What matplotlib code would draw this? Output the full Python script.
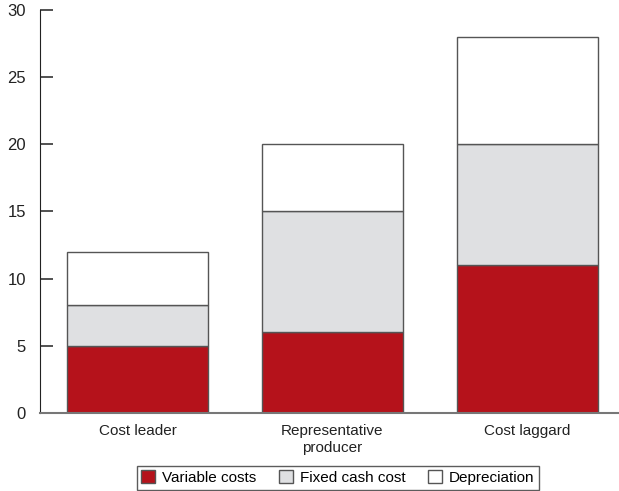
import matplotlib
matplotlib.use('Agg')
import matplotlib.pyplot as plt
import numpy as np

plt.rcParams['font.family'] = ['Liberation Sans', 'DejaVu Sans']

categories = ['Cost leader', 'Representative\nproducer', 'Cost laggard']
variable_costs = [5, 6, 11]
fixed_cash_cost = [3, 9, 9]
depreciation = [4, 5, 8]

fig = plt.figure(figsize=(6.19, 4.91), dpi=100)
ax = fig.add_axes([0.0646, 0.159, 0.9354, 0.821])

x = np.arange(len(categories))
w = 0.72
edge = '#555555'
b1 = ax.bar(x, variable_costs, w, color='#B5121B', edgecolor=edge, linewidth=1,
            label='Variable costs')
b2 = ax.bar(x, fixed_cash_cost, w, bottom=variable_costs, color='#DFE0E2',
            edgecolor=edge, linewidth=1, label='Fixed cash cost')
bottom2 = np.array(variable_costs) + np.array(fixed_cash_cost)
b3 = ax.bar(x, depreciation, w, bottom=bottom2, color='white',
            edgecolor=edge, linewidth=1, label='Depreciation')

ax.set_xlim(-0.5, 2.47)
ax.set_ylim(0, 30)
ax.set_yticks(range(0, 31, 5))
ax.set_xticks(x)
ax.set_xticklabels(categories, fontsize=11, color='#222222', linespacing=1.25)
ax.tick_params(axis='y', direction='in', length=9.5, width=1.2, color='#333333',
               labelsize=12, labelcolor='#222222', pad=10)
ax.tick_params(axis='x', length=0, pad=8)
for s in ['top', 'right']:
    ax.spines[s].set_visible(False)
ax.spines['left'].set_color('#222222')
ax.spines['bottom'].set_color('#777777')
ax.spines['bottom'].set_linewidth(1.5)

leg = fig.legend(handles=[b1, b2, b3], loc='center', bbox_to_anchor=(0.546, 0.027),
                 ncol=3, fontsize=11, frameon=True, fancybox=False,
                 handlelength=0.9, handleheight=0.9, handletextpad=0.45,
                 columnspacing=1.5, borderpad=0.3, edgecolor='#333333')
leg.get_frame().set_linewidth(1.0)

fig.savefig('out.png', dpi=100, facecolor='white')
